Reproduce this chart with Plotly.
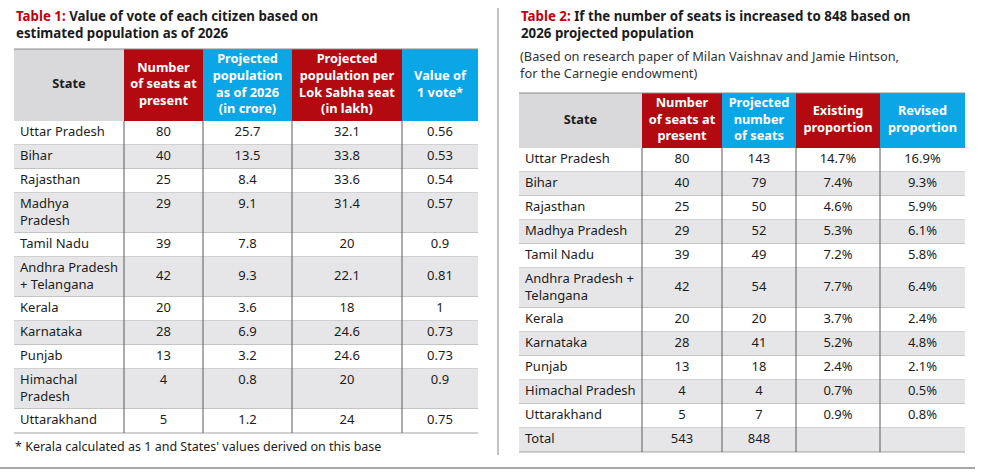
import plotly.graph_objects as go

# ---------------------------------------------------------------
# DATA
# ---------------------------------------------------------------
T1_TITLE = "Value of vote of each citizen based on<br>estimated population as of 2026"
T1_HEADERS = ["State", "Number<br>of seats at<br>present", "Projected<br>population<br>as of 2026<br>(in crore)",
              "Projected<br>population per<br>Lok Sabha seat<br>(in lakh)", "Value of<br>1 vote*"]
T1_STATES = ["Uttar Pradesh", "Bihar", "Rajasthan", "Madhya<br>Pradesh", "Tamil Nadu",
             "Andhra Pradesh<br>+ Telangana", "Kerala", "Karnataka", "Punjab",
             "Himachal<br>Pradesh", "Uttarakhand"]
T1_SEATS = [80, 40, 25, 29, 39, 42, 20, 28, 13, 4, 5]
T1_POP_CRORE = [25.7, 13.5, 8.4, 9.1, 7.8, 9.3, 3.6, 6.9, 3.2, 0.8, 1.2]
T1_POP_PER_SEAT = [32.1, 33.8, 33.6, 31.4, 20, 22.1, 18, 24.6, 24.6, 20, 24]
T1_VOTE_VALUE = [0.56, 0.53, 0.54, 0.57, 0.9, 0.81, 1, 0.73, 0.73, 0.9, 0.75]
T1_FOOTNOTE = "* Kerala calculated as 1 and States' values derived on this base"

T2_TITLE = "If the number of seats is increased to 848 based on<br>2026 projected population"
T2_SUBTITLE = "(Based on research paper of Milan Vaishnav and Jamie Hintson,<br>for the Carnegie endowment)"
T2_HEADERS = ["State", "Number<br>of seats at<br>present", "Projected<br>number<br>of seats",
              "Existing<br>proportion", "Revised<br>proportion"]
T2_STATES = ["Uttar Pradesh", "Bihar", "Rajasthan", "Madhya Pradesh", "Tamil Nadu",
             "Andhra Pradesh +<br>Telangana", "Kerala", "Karnataka", "Punjab",
             "Himachal Pradesh", "Uttarakhand", "Total"]
T2_SEATS = [80, 40, 25, 29, 39, 42, 20, 28, 13, 4, 5, 543]
T2_PROJECTED = [143, 79, 50, 52, 49, 54, 20, 41, 18, 4, 7, 848]
T2_EXISTING = [14.7, 7.4, 4.6, 5.3, 7.2, 7.7, 3.7, 5.2, 2.4, 0.7, 0.9, None]
T2_REVISED = [16.9, 9.3, 5.9, 6.1, 5.8, 6.4, 2.4, 4.8, 2.1, 0.5, 0.8, None]

# ---------------------------------------------------------------
# STYLE
# ---------------------------------------------------------------
W, H = 984, 472
FONT = "Noto Sans"
RED = "#b30a12"
TITLE_RED = "#c00010"
BLUE = "#0ba6e6"
HEAD_GREY = "#d9d9db"
ROW_GREY = "#e6e6e8"
TEXT = "#1c1c1c"
ROW_H = 24
LINE_H = 16


def fmt(v, pct=False):
    if v is None:
        return ""
    return f"{v}%" if pct else str(v)


fig = go.Figure()
shapes = []


def add_table(x0, widths, y0, head_h, headers, head_colors, columns, top_aligned=()):
    edges = [x0]
    for w in widths:
        edges.append(edges[-1] + w)
    x1 = edges[-1]

    # header cells
    for i, (hdr, col) in enumerate(zip(headers, head_colors)):
        shapes.append(dict(type="rect", x0=edges[i], x1=edges[i + 1], y0=y0, y1=y0 + head_h,
                           fillcolor=col, line_width=0, layer="below"))
    shapes.append(dict(type="line", x0=x0, x1=x1, y0=y0, y1=y0,
                       line=dict(color="#8c8c8c", width=1), layer="below"))
    fig.add_trace(go.Scatter(
        x=[(edges[i] + edges[i + 1]) / 2 for i in range(len(headers))],
        y=[y0 + head_h / 2] * len(headers),
        text=[f"<b>{h}</b>" for h in headers],
        mode="text", textposition="middle center",
        textfont=dict(family=FONT, size=12.8,
                      color=[TEXT if c == HEAD_GREY else "white" for c in head_colors]),
        hoverinfo="skip", showlegend=False))

    # body rows
    labels = columns[0]
    tops, mids = [], []
    y = y0 + head_h
    for r, lab in enumerate(labels):
        h = ROW_H + LINE_H * lab.count("<br>")
        shapes.append(dict(type="rect", x0=x0, x1=x1, y0=y, y1=y + h,
                           fillcolor=ROW_GREY if r % 2 else "white", line_width=0, layer="below"))
        shapes.append(dict(type="line", x0=x0, x1=x1, y0=y + h, y1=y + h,
                           line=dict(color="#a3a3a3", width=1), layer="below"))
        tops.append(y)
        mids.append(y + h / 2)
        y += h
    y_end = y
    for e in edges[1:-1]:
        shapes.append(dict(type="line", x0=e, x1=e, y0=y0 + head_h, y1=y_end,
                           line=dict(color="#5a5a5a", width=1), layer="below"))

    fig.add_trace(go.Scatter(
        x=[x0 + 6] * len(labels), y=mids, text=labels,
        mode="text", textposition="middle right",
        textfont=dict(family=FONT, size=13, color=TEXT),
        hoverinfo="skip", showlegend=False))
    for c, vals in enumerate(columns[1:], start=1):
        ys = [tops[r] + ROW_H / 2 if r in top_aligned else mids[r] for r in range(len(vals))]
        fig.add_trace(go.Scatter(
            x=[(edges[c] + edges[c + 1]) / 2] * len(vals), y=ys, text=vals,
            mode="text", textposition="middle center",
            textfont=dict(family=FONT, size=13, color=TEXT),
            hoverinfo="skip", showlegend=False))


# Table 1
add_table(
    14, [110, 79, 89, 110, 76], 49, 72, T1_HEADERS,
    [HEAD_GREY, RED, BLUE, RED, BLUE],
    [T1_STATES,
     [fmt(v) for v in T1_SEATS],
     [fmt(v) for v in T1_POP_CRORE],
     [fmt(v) for v in T1_POP_PER_SEAT],
     [fmt(v) for v in T1_VOTE_VALUE]],
    top_aligned={3, 9},
)

# Table 2
add_table(
    519, [123, 80, 74, 84, 85], 93, 55, T2_HEADERS,
    [HEAD_GREY, RED, BLUE, RED, BLUE],
    [T2_STATES,
     [fmt(v) for v in T2_SEATS],
     [fmt(v) for v in T2_PROJECTED],
     [fmt(v, True) for v in T2_EXISTING],
     [fmt(v, True) for v in T2_REVISED]],
)

# divider and bottom rule
shapes.append(dict(type="line", x0=498, x1=498, y0=8, y1=455,
                   line=dict(color="#9a9a9a", width=1.2)))
shapes.append(dict(type="line", x0=0, x1=975, y0=468, y1=468,
                   line=dict(color="#8a8a8a", width=1.5)))

annotations = [
    dict(x=14, y=24, text=f"<b><span style='color:{TITLE_RED}'>Table 1:</span> {T1_TITLE}</b>",
         xanchor="left", yanchor="middle", align="left",
         font=dict(family=FONT, size=13.3, color=TEXT)),
    dict(x=519, y=24, text=f"<b><span style='color:{TITLE_RED}'>Table 2:</span> {T2_TITLE}</b>",
         xanchor="left", yanchor="middle", align="left",
         font=dict(family=FONT, size=13.3, color=TEXT)),
    dict(x=518, y=64, text=T2_SUBTITLE, xanchor="left", yanchor="middle", align="left",
         font=dict(family=FONT, size=12.8, color="#333333")),
    dict(x=13, y=446, text=T1_FOOTNOTE, xanchor="left", yanchor="middle", align="left",
         font=dict(family=FONT, size=12.5, color=TEXT)),
]
for a in annotations:
    a.update(xref="x", yref="y", showarrow=False)

fig.update_layout(
    width=W, height=H,
    margin=dict(l=0, r=0, t=0, b=0),
    paper_bgcolor="white", plot_bgcolor="white",
    xaxis=dict(range=[0, W], visible=False, fixedrange=True),
    yaxis=dict(range=[H, 0], visible=False, fixedrange=True),
    shapes=shapes,
    annotations=annotations,
)

# remove the default page margin so the figure sits flush in the window
fig.write_html("out.html", config={"displayModeBar": False},
               post_script="document.body.style.margin='0';document.body.style.overflow='hidden';")
